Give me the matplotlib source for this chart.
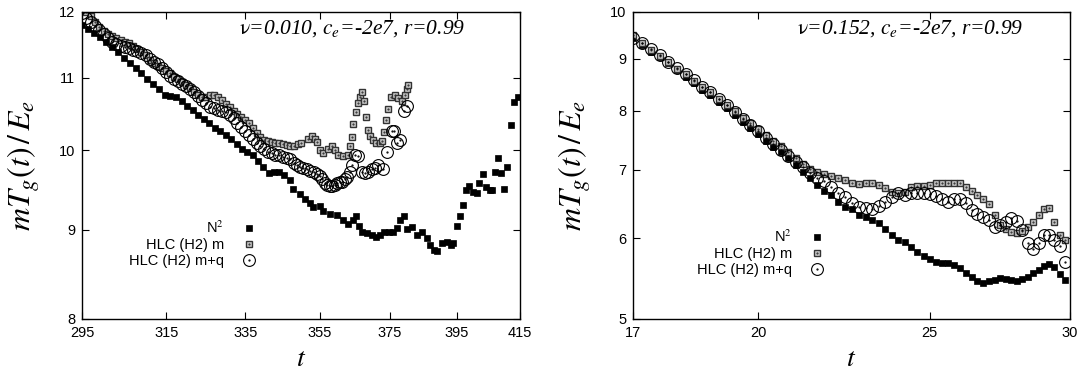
import numpy as np
import matplotlib
matplotlib.use("Agg")
import matplotlib.pyplot as plt
from matplotlib.ticker import FixedLocator, FixedFormatter, NullLocator

plt.rcParams['font.family'] = ['Liberation Sans', 'DejaVu Sans']
plt.rcParams['mathtext.fontset'] = 'stix'

# ---- left panel: nu=0.010 ----
t_n2_a = [295.0, 296.4, 297.8, 299.2, 300.6, 302.0, 303.4, 304.8, 306.2, 307.6, 309.0, 310.4,
          311.8, 313.2, 314.6, 316.0, 317.4, 318.8, 320.2, 321.6, 323.0, 324.4, 325.8, 327.2,
          328.6, 330.0, 331.4, 332.8, 334.2, 335.6, 337.0, 338.4, 339.8, 341.3, 342.7, 344.0,
          345.4, 346.8, 347.7, 349.6, 351.0, 352.4, 353.2, 355.1, 356.0, 357.9, 359.9, 361.6,
          363.0, 364.4, 365.2, 366.1, 366.9, 368.4, 369.8, 370.9, 372.1, 373.2, 374.7, 375.9,
          377.1, 378.0, 379.2, 380.1, 381.5, 383.0, 384.5, 386.0, 386.9, 388.1, 389.0, 390.5,
          392.1, 393.3, 393.9, 395.2, 396.1, 397.0, 397.9, 398.8, 400.1, 401.4, 402.0, 403.2,
          404.1, 405.4, 406.1, 407.0, 408.0, 408.9, 409.9, 410.8, 412.1, 413.0, 414.4]
n2_a = [11.80, 11.74, 11.67, 11.61, 11.53, 11.46, 11.38, 11.30, 11.22, 11.15, 11.07, 10.99,
        10.91, 10.84, 10.76, 10.74, 10.72, 10.67, 10.60, 10.54, 10.48, 10.42, 10.36, 10.30,
        10.25, 10.20, 10.15, 10.08, 10.01, 9.98, 9.93, 9.86, 9.78, 9.70, 9.72, 9.72,
        9.67, 9.61, 9.50, 9.44, 9.37, 9.33, 9.27, 9.29, 9.23, 9.19, 9.18, 9.12,
        9.07, 9.12, 9.16, 9.04, 8.97, 8.96, 8.94, 8.92, 8.94, 8.98, 8.98, 8.97,
        9.02, 9.12, 9.16, 9.01, 9.03, 8.94, 8.98, 8.90, 8.82, 8.76, 8.75, 8.84,
        8.86, 8.82, 8.85, 9.05, 9.17, 9.30, 9.48, 9.53, 9.46, 9.45, 9.58, 9.69,
        9.52, 9.49, 9.48, 9.72, 9.90, 9.70, 9.50, 9.78, 10.34, 10.66, 10.73]

t_m_a = [295, 296, 297, 298, 299, 300, 301, 302, 303, 304, 305, 306, 307, 308, 309, 310,
         311, 312, 313, 314, 315, 316, 317, 318, 319, 320, 321, 322, 323, 324, 325, 326,
         327, 328, 329, 330, 331, 332, 333, 334, 335, 336, 337, 338, 339, 340, 341, 342,
         343, 344, 345, 346, 347, 348, 349, 350, 351.9, 352.9, 353.8, 354.3, 355.1, 356.0,
         357.4, 358.5, 359.3, 360.2, 361.6, 363.0, 363.5, 364.1, 364.4, 365.2, 365.8, 366.4,
         366.9, 367.5, 368.1, 368.7, 369.2, 370.1, 370.9, 372.1, 372.7, 373.2, 373.9, 374.5,
         375.4, 376.5, 377.4, 378.6, 379.5, 380.1, 380.3]
m_a = [12.02, 12.00, 11.93, 11.84, 11.76, 11.71, 11.66, 11.62, 11.59, 11.57, 11.54, 11.52,
       11.48, 11.43, 11.38, 11.33, 11.27, 11.22, 11.18, 11.14, 11.10, 11.07, 11.02, 10.98,
       10.94, 10.89, 10.85, 10.80, 10.76, 10.73, 10.72, 10.75, 10.76, 10.73, 10.69, 10.63,
       10.58, 10.53, 10.49, 10.45, 10.41, 10.36, 10.30, 10.23, 10.17, 10.14, 10.12, 10.11,
       10.10, 10.09, 10.08, 10.07, 10.06, 10.05, 10.08, 10.09, 10.15, 10.19, 10.15, 10.11,
       10.00, 9.96, 10.02, 10.05, 10.00, 9.93, 9.92, 9.93, 10.06, 10.18, 10.35, 10.52,
       10.64, 10.73, 10.80, 10.67, 10.45, 10.27, 10.19, 10.13, 10.10, 10.09, 10.12, 10.24,
       10.41, 10.56, 10.73, 10.75, 10.71, 10.67, 10.76, 10.84, 10.89]

t_mq_a = [295, 296, 297, 298, 299, 300, 301, 302, 303, 304, 305, 306, 307, 308, 309, 310,
          311, 312, 313, 314, 315, 316, 317, 318, 319, 320, 321, 322, 323, 324, 325, 326,
          327, 328, 329, 330, 331, 332, 333, 334, 335, 336, 337, 338, 339, 340, 341, 342,
          343, 344, 345, 346, 347, 348.0, 348.9, 349.5, 350.5, 351.4, 352.4, 353.4, 354.3,
          355.0, 355.7, 356.4, 357.1, 357.8, 358.5, 359.2, 359.9, 360.6, 361.3, 362.0, 362.7,
          363.4, 364.1, 364.9, 365.8, 366.9, 367.8, 368.7, 369.8, 370.7, 371.5, 373.0, 374.2,
          375.6, 376.2, 377.1, 378.0, 379.0, 380.1]
mq_a = [11.98, 11.91, 11.85, 11.78, 11.72, 11.66, 11.60, 11.54, 11.51, 11.48, 11.46, 11.44,
        11.42, 11.40, 11.37, 11.33, 11.28, 11.24, 11.20, 11.15, 11.08, 11.03, 10.99, 10.95,
        10.91, 10.88, 10.84, 10.80, 10.74, 10.69, 10.64, 10.59, 10.57, 10.55, 10.53, 10.51,
        10.48, 10.43, 10.36, 10.31, 10.25, 10.20, 10.15, 10.09, 10.05, 10.01, 9.98, 9.96,
        9.94, 9.93, 9.91, 9.90, 9.88, 9.83, 9.80, 9.78, 9.77, 9.75, 9.73, 9.71, 9.69,
        9.66, 9.62, 9.58, 9.55, 9.54, 9.53, 9.55, 9.58, 9.59, 9.59, 9.62, 9.65,
        9.72, 9.80, 9.93, 9.92, 9.72, 9.70, 9.72, 9.75, 9.77, 9.80, 9.75, 9.98,
        10.26, 10.26, 10.10, 10.13, 10.53, 10.60]

# ---- right panel: nu=0.152 ----
t_b = np.arange(17.0, 29.9, 0.2)
n2_b = [9.43, 9.28, 9.14, 9.03, 8.91, 8.77, 8.64, 8.52, 8.39, 8.29, 8.16, 8.05, 7.92,
        7.80, 7.70, 7.60, 7.47, 7.37, 7.29, 7.19, 7.08, 6.97, 6.87, 6.77, 6.68, 6.62,
        6.51, 6.44, 6.41, 6.32, 6.30, 6.25, 6.21, 6.13, 6.05, 5.98, 5.95, 5.88, 5.82,
        5.76, 5.73, 5.69, 5.68, 5.68, 5.65, 5.61, 5.55, 5.50, 5.45, 5.42, 5.45, 5.46,
        5.49, 5.47, 5.46, 5.45, 5.47, 5.50, 5.55, 5.58, 5.64, 5.66, 5.62, 5.54, 5.46]
m_b = [9.50, 9.32, 9.18, 9.06, 8.94, 8.80, 8.69, 8.56, 8.44, 8.34, 8.21, 8.10, 7.99,
       7.88, 7.78, 7.67, 7.58, 7.48, 7.39, 7.29, 7.19, 7.10, 7.02, 6.97, 6.94, 6.91,
       6.88, 6.84, 6.80, 6.78, 6.79, 6.80, 6.77, 6.72, 6.66, 6.64, 6.66, 6.73, 6.75,
       6.75, 6.76, 6.80, 6.79, 6.79, 6.80, 6.79, 6.74, 6.68, 6.62, 6.55, 6.48, 6.32,
       6.18, 6.12, 6.09, 6.07, 6.10, 6.16, 6.23, 6.33, 6.41, 6.42, 6.22, 6.05, 5.97]
mq_b = [9.43, 9.33, 9.19, 9.07, 8.94, 8.82, 8.70, 8.57, 8.45, 8.34, 8.22, 8.10, 7.98,
        7.86, 7.75, 7.64, 7.53, 7.43, 7.33, 7.23, 7.13, 7.04, 6.95, 6.87, 6.83, 6.73,
        6.64, 6.59, 6.50, 6.44, 6.42, 6.41, 6.45, 6.51, 6.59, 6.64, 6.62, 6.64, 6.64,
        6.64, 6.63, 6.60, 6.55, 6.51, 6.55, 6.55, 6.50, 6.40, 6.34, 6.30, 6.25, 6.15,
        6.18, 6.22, 6.28, 6.24, 6.11, 5.94, 5.85, 5.94, 6.05, 6.04, 5.98, 5.90, 5.69]

labels = [r'N$^{2}$', 'HLC (H2) m', 'HLC (H2) m+q']

fig = plt.figure(figsize=(10.86, 3.76), dpi=100)
ax1 = fig.add_axes([0.0755, 0.1516, 0.4033, 0.8165])
ax2 = fig.add_axes([0.5829, 0.1516, 0.4024, 0.8165])


def draw(ax, tn, n2, tm, m, tq, mq):
    h1, = ax.plot(tn, n2, ls='none', marker='s', ms=3.8, mfc='black', mec='black', mew=0.5)
    h2, = ax.plot(tm, m, ls='none', marker='s', ms=4.3, mfc='0.8', mec='0.2', mew=1.0)
    d2, = ax.plot(tm, m, ls='none', marker='.', ms=1.2, color='0.2')
    h3, = ax.plot(tq, mq, ls='none', marker='o', ms=8.5, mfc='none', mec='black', mew=0.8)
    d3, = ax.plot(tq, mq, ls='none', marker='.', ms=1.2, color='black')
    return [h1, (h2, d2), (h3, d3)]


def style(ax, xt, yt, xlim, ylim, note, note_x):
    ax.set_xscale('log')
    ax.set_yscale('log')
    ax.set_xlim(*xlim)
    ax.set_ylim(*ylim)
    ax.xaxis.set_major_locator(FixedLocator(xt))
    ax.xaxis.set_major_formatter(FixedFormatter([str(v) for v in xt]))
    ax.yaxis.set_major_locator(FixedLocator(yt))
    ax.yaxis.set_major_formatter(FixedFormatter([str(v) for v in yt]))
    ax.xaxis.set_minor_locator(NullLocator())
    ax.yaxis.set_minor_locator(NullLocator())
    ax.tick_params(direction='in', top=True, right=True, length=5, width=0.8,
                   labelsize=10.5, pad=5)
    for s in ax.spines.values():
        s.set_linewidth(1.0)
    ax.set_ylabel(r'$mT_g(t)\,/\,E_e$', fontsize=23)
    ax.set_xlabel(r'$t$', fontsize=20)
    ax.yaxis.set_label_coords(-0.092, 0.5)
    ax.xaxis.set_label_coords(0.5, -0.088)
    ax.text(note_x, 0.945, note, transform=ax.transAxes, ha='right', va='center',
            family='Liberation Serif', style='italic', fontsize=15.5)


h = draw(ax1, t_n2_a, n2_a, t_m_a, m_a, t_mq_a, mq_a)
style(ax1, [295, 315, 335, 355, 375, 395, 415], [8, 9, 10, 11, 12], (295, 415), (8, 12),
      r'$\mathrm{\nu}$=0.010, $c_e$=-2e7, r=0.99', 0.874)
h_b = draw(ax2, t_b, n2_b, t_b, m_b, t_b, mq_b)
style(ax2, [17, 20, 25, 30], [5, 6, 7, 8, 9, 10], (17, 30), (5, 10),
      r'$\mathrm{\nu}$=0.152, $c_e$=-2e7, r=0.99', 0.892)

for ax, hs, anchor in [(ax1, h, (0.397, 0.325)), (ax2, h_b, (0.437, 0.295))]:
    leg = ax.legend(hs, labels, loc='upper right', bbox_to_anchor=anchor, frameon=False,
                    markerfirst=False, handlelength=1.0, handletextpad=1.2,
                    labelspacing=0.15, borderpad=0, borderaxespad=0, fontsize=10.5)
    for col in leg._legend_handle_box.get_children():
        col.align = 'right'

fig.savefig('out.png', dpi=100)
